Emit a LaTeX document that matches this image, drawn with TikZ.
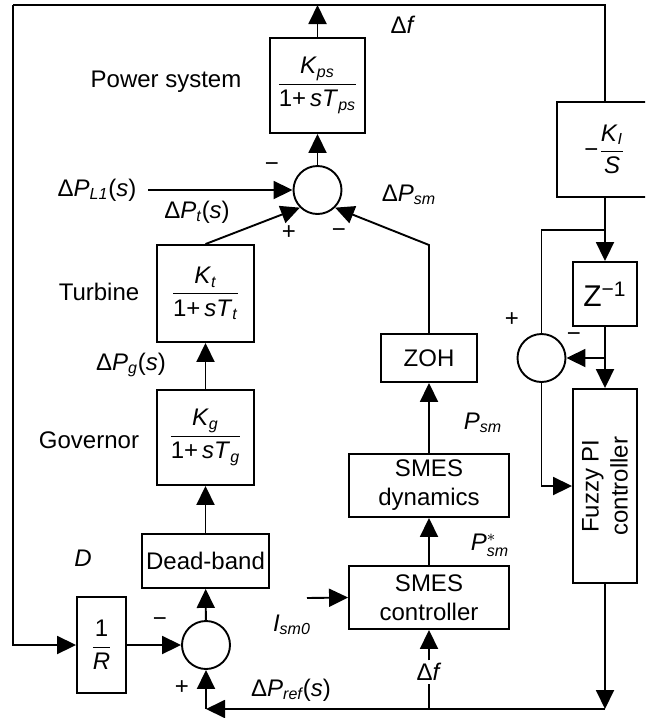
\documentclass[tikz,border=0pt,12pt]{standalone}
\usepackage{amsmath}
\usepackage{fontspec}
\setmainfont{Liberation Sans}
\usetikzlibrary{arrows.meta,calc,positioning}
\newcommand{\vr}[1]{\textit{#1}}
\newcommand{\sbs}[1]{$_{\textit{#1}}$}
\newcommand{\tf}[2]{$\dfrac{\text{#1}}{\text{#2}}$}

\begin{document}
\begin{tikzpicture}[x=0.5pt,y=-0.5pt, line width=0.95pt,
    blk/.style={draw, line width=0.95pt, inner sep=1pt},
    sumc/.style={draw, circle, line width=0.95pt, minimum size=24pt, inner sep=0pt},
    lbl/.style={inner sep=1pt},
    >={Triangle[length=9.5pt,width=9pt]}]
    \clip (0,0) rectangle (645,718);

    \node[blk, minimum width=47.5pt, minimum height=47.5pt] (ps) at (317.5,85.5) {\tf{\vr{K}\sbs{ps}}{1+\,\vr{sT}\sbs{ps}}};
    \node[sumc] (sum1) at (317.5,190) {};
    \node[blk, minimum width=48.5pt, minimum height=48.5pt] (tur) at (205.5,293.5) {\tf{\vr{K}\sbs{t}}{1+\,\vr{sT}\sbs{t}}};
    \node[blk, minimum width=48.5pt, minimum height=47.5pt] (gov) at (205.5,437.5) {\tf{\vr{K}\sbs{g}}{1+\,\vr{sT}\sbs{g}}};
    \node[blk, minimum width=63.5pt, minimum height=27pt] (db) at (205.5,561) {Dead-band};
    \node[blk, minimum width=24.5pt, minimum height=48pt] (rr) at (101.5,645) {\tf{1}{\vr{R}}};
    \node[sumc] (sum2) at (206,645) {};
    \node[blk, minimum width=48pt, minimum height=24pt] (zoh) at (429,358) {ZOH};
    \node[blk, minimum width=80pt, minimum height=31.5pt, align=center] (dyn) at (429,485.5) {SMES\\dynamics};
    \node[blk, minimum width=80pt, minimum height=31.5pt, align=center] (ctl) at (429,597.5) {SMES\\controller};
    \node[blk, minimum width=48pt, minimum height=47.5pt] (ki) at (605,149.5) {−\tf{\vr{K}\sbs{I}}{\vr{S}}};
    \node[blk, minimum width=32pt, minimum height=32pt, font=\fontsize{15}{17}\selectfont] (z1) at (605,294) {Z\textsuperscript{−1}};
    \node[sumc] (sum3) at (541.5,358) {};
    \node[blk, minimum width=32pt, minimum height=97pt] (fz) at (605,486) {};
    \node[rotate=90, align=center] (fzt) at (fz) {Fuzzy PI\\controller};

    \node[lbl] (psl) at (166,82) {Power system};
    \node[lbl] (dft) at (403,25) {Δ\vr{f}};
    \node[lbl] (dpsm) at (409,195) {Δ\vr{P}\sbs{sm}};
    \node[lbl] (dpl) at (97,190) {Δ\vr{P}\sbs{L1}(\vr{s})};
    \node[lbl] (dpt) at (197,212) {Δ\vr{P}\sbs{t}(\vr{s})};
    \node[lbl] (turl) at (99,292) {Turbine};
    \node[lbl] (dpg) at (131,365) {Δ\vr{P}\sbs{g}(\vr{s})};
    \node[lbl] (govl) at (89,440) {Governor};
    \node[lbl] (dl) at (83,558) {\vr{D}};
    \node[lbl] (ism) at (292,625) {\vr{I}\sbs{sm0}};
    \node[lbl] (dpr) at (291,690) {Δ\vr{P}\sbs{ref}(\vr{s})};
    \node[lbl] (df2) at (429,672) {Δ\vr{f}};
    \node[lbl] (psst) at (490,545) {\vr{P}$^{*}_{\textit{sm}}$};
    \node[lbl] (psm) at (483,423) {\vr{P}\sbs{sm}};

    \node[lbl] (sa) at (272,167) {−};
    \node[lbl] (sb) at (289,233) {+};
    \node[lbl] (sc) at (339,233) {−};
    \node[lbl] (sd) at (160,622) {−};
    \node[lbl] (se) at (182,688) {+};
    \node[lbl] (sf) at (512,320) {+};
    \node[lbl] (sg) at (574,337) {−};

    \coordinate (tl) at (13,5);
    \coordinate (tr) at (605,5);
    \coordinate (lin) at (148,190);
    \coordinate (zk) at (429,245);
    \coordinate (kb) at (605,230);
    \coordinate (zb) at (605,358);
    \coordinate (br) at (605,709);
    \coordinate (bl) at (206,709);
    \coordinate (bf) at (429,709);
    \coordinate (iin) at (307,598);

    \draw[->] (ps.north) -- (ps.north |- tl);
    \draw (tl) -- (tr) -- (ki.north);
    \draw[->] (tl) |- (rr.west);
    \draw[->] (lin) -- (sum1.west);
    \draw[->] (tur.north) -- (sum1.225);
    \draw[->] (zoh.north) -- (zk) -- (sum1.-45);
    \draw[->] (sum1) -- (ps);
    \draw[->] (gov) -- (tur);
    \draw[->] (db) -- (gov);
    \draw[->] (sum2) -- (db);
    \draw[->] (rr) -- (sum2);
    \draw[->] (fz) -- (br);
    \draw[->] (br) -- (bl);
    \draw[->] (bl) -- (sum2);
    \draw (bf) -- (df2.south);
    \draw[->] (df2) -- (ctl);
    \draw[->] (iin) -- (ctl.west);
    \draw[->] (ctl) -- (dyn);
    \draw[->] (dyn) -- (zoh);
    \draw[->] (ki) -- (z1);
    \draw (kb) -| (sum3.north);
    \draw[->] (z1) -- (fz);
    \draw[->] (zb) -- (sum3.east);
    \draw[->] (sum3.south) |- (fz.west);
\end{tikzpicture}
\end{document}
